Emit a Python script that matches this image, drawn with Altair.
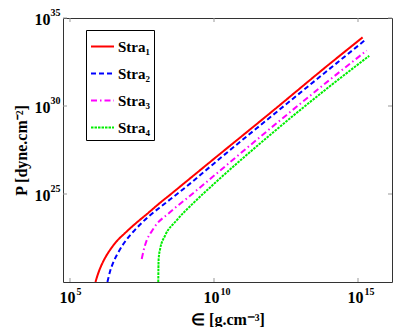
import altair as alt
import pandas as pd

# log10 of energy density (x) and pressure (y)
series_names = ["Stra₁", "Stra₂", "Stra₃", "Stra₄"]

stra1_log_e = [5.885, 5.97, 6.08, 6.215, 6.39, 6.63, 6.91, 7.26, 7.67, 8.12, 8.50, 9.00, 10.03, 11.98, 13.99, 15.16]
stra1_log_p = [20.0, 20.45, 20.91, 21.36, 21.82, 22.33, 22.78, 23.30, 23.86, 24.49, 24.99, 25.66, 27.04, 29.64, 32.36, 33.90]

stra2_log_e = [6.30, 6.39, 6.50, 6.65, 6.87, 7.25, 7.75, 8.25, 8.75, 9.25, 10.03, 11.98, 13.99, 15.22]
stra2_log_p = [20.0, 20.60, 21.10, 21.60, 22.20, 22.95, 23.75, 24.40, 25.04, 25.70, 26.78, 29.40, 32.08, 33.71]

stra3_log_e = [7.49, 7.55, 7.60, 7.89, 8.47, 9.17, 10.03, 11.98, 13.99, 15.30]
stra3_log_p = [21.31, 21.75, 22.06, 23.01, 23.96, 24.90, 26.08, 28.76, 31.45, 33.15]

stra4_log_e = [8.065, 8.07, 8.08, 8.13, 8.30, 8.70, 9.28, 10.03, 11.98, 13.99, 15.39]
stra4_log_p = [20.0, 20.8, 21.35, 21.88, 22.63, 23.50, 24.48, 25.62, 28.40, 31.08, 32.85]

colors = ["#ff0000", "#0000ff", "#ff00ff", "#00ee00"]
dashes = [[1, 0], [5, 3], [6, 3, 1.5, 3], [2.5, 1]]

x_ticks = [1e5, 1e10, 1e15]
y_ticks = [1e25, 1e30, 1e35]

rows = []
for name, le, lp in zip(series_names,
                        [stra1_log_e, stra2_log_e, stra3_log_e, stra4_log_e],
                        [stra1_log_p, stra2_log_p, stra3_log_p, stra4_log_p]):
    for i, (a, b) in enumerate(zip(le, lp)):
        rows.append({"series": name, "e": 10 ** a, "p": 10 ** b, "i": i})
df = pd.DataFrame(rows)
xt_df = pd.DataFrame({"e": x_ticks})
yt_df = pd.DataFrame({"p": y_ticks})

exp_expr = "format(round(log(datum.value)/LN10), 'd')"
font = "Liberation Serif"
W, H, TICK = 329, 264, 4

x_scale = alt.Scale(type="log", domain=[10 ** 4.757, 10 ** 16.18], nice=False)
y_scale = alt.Scale(type="log", domain=[1e20, 1e35], nice=False)

base = alt.Chart(df)

lines = base.mark_line(clip=True, strokeWidth=2, interpolate="monotone").encode(
    x=alt.X("e:Q", scale=x_scale,
            axis=alt.Axis(orient="bottom", values=x_ticks, labelExpr="'10'", title="∈ [g.cm⁻³]",
                          grid=False, ticks=False, domain=False, labelPadding=7,
                          labelAlign="right", labelOffset=5, labelFontSize=16,
                          titlePadding=6, labelFlush=False)),
    y=alt.Y("p:Q", scale=y_scale,
            axis=alt.Axis(orient="left", values=y_ticks, labelExpr="'10'", title="P [dyne.cm⁻²]",
                          grid=False, ticks=False, domain=False, labelPadding=13,
                          labelFontSize=16, labelOffset=1,
                          titlePadding=5, labelFlush=False)),
    color=alt.Color("series:N",
                    scale=alt.Scale(domain=series_names, range=colors),
                    legend=alt.Legend(title=None, orient="none", legendX=23, legendY=12,
                                      symbolType="stroke", symbolSize=529, symbolStrokeWidth=2,
                                      labelFont=font, labelFontWeight="bold", labelFontSize=15,
                                      labelColor="black", rowPadding=6, padding=4,
                                      strokeColor="black", fillColor="white", labelOffset=3)),
    strokeDash=alt.StrokeDash("series:N",
                              scale=alt.Scale(domain=series_names, range=dashes),
                              legend=None),
    order="i:Q",
)

exponents = base.mark_line(opacity=0).encode(
    x=alt.X("e:Q", scale=x_scale,
            axis=alt.Axis(orient="bottom", values=x_ticks, labelExpr=exp_expr, title=None,
                          grid=False, ticks=False, domain=False, labelPadding=4,
                          labelAlign="left", labelOffset=6, labelFontSize=10,
                          labelFlush=False)),
    y=alt.Y("p:Q", scale=y_scale,
            axis=alt.Axis(orient="left", values=y_ticks, labelExpr=exp_expr, title=None,
                          grid=False, ticks=False, domain=False, labelPadding=3,
                          labelFontSize=10, labelOffset=-6, labelFlush=False)),
    detail="series:N",
)

tick_color = "#999999"
xt_bottom = alt.Chart(xt_df).mark_rule(color=tick_color, strokeWidth=1).encode(
    x=alt.X("e:Q", scale=x_scale, axis=None), y=alt.value(H - TICK), y2=alt.value(H))
xt_top = alt.Chart(xt_df).mark_rule(color=tick_color, strokeWidth=1).encode(
    x=alt.X("e:Q", scale=x_scale, axis=None), y=alt.value(0), y2=alt.value(TICK))
yt_left = alt.Chart(yt_df).mark_rule(color=tick_color, strokeWidth=1).encode(
    y=alt.Y("p:Q", scale=y_scale, axis=None), x=alt.value(0), x2=alt.value(TICK))
yt_right = alt.Chart(yt_df).mark_rule(color=tick_color, strokeWidth=1).encode(
    y=alt.Y("p:Q", scale=y_scale, axis=None), x=alt.value(W - TICK), x2=alt.value(W))

chart = alt.layer(xt_bottom, xt_top, yt_left, yt_right, lines, exponents).resolve_axis(
    x="independent", y="independent"
).properties(
    width=W,
    height=H,
    autosize=alt.AutoSizeParams(type="none"),
    padding={"left": 55, "top": 10, "right": 15, "bottom": 45},
).configure_view(
    stroke="#333333", strokeWidth=1
).configure_axis(
    labelFont=font, labelFontWeight="bold", labelColor="black",
    titleFont=font, titleFontWeight="bold", titleFontSize=16, titleColor="black",
)

chart.save("out.html", embed_options={"renderer": "svg", "actions": False})
